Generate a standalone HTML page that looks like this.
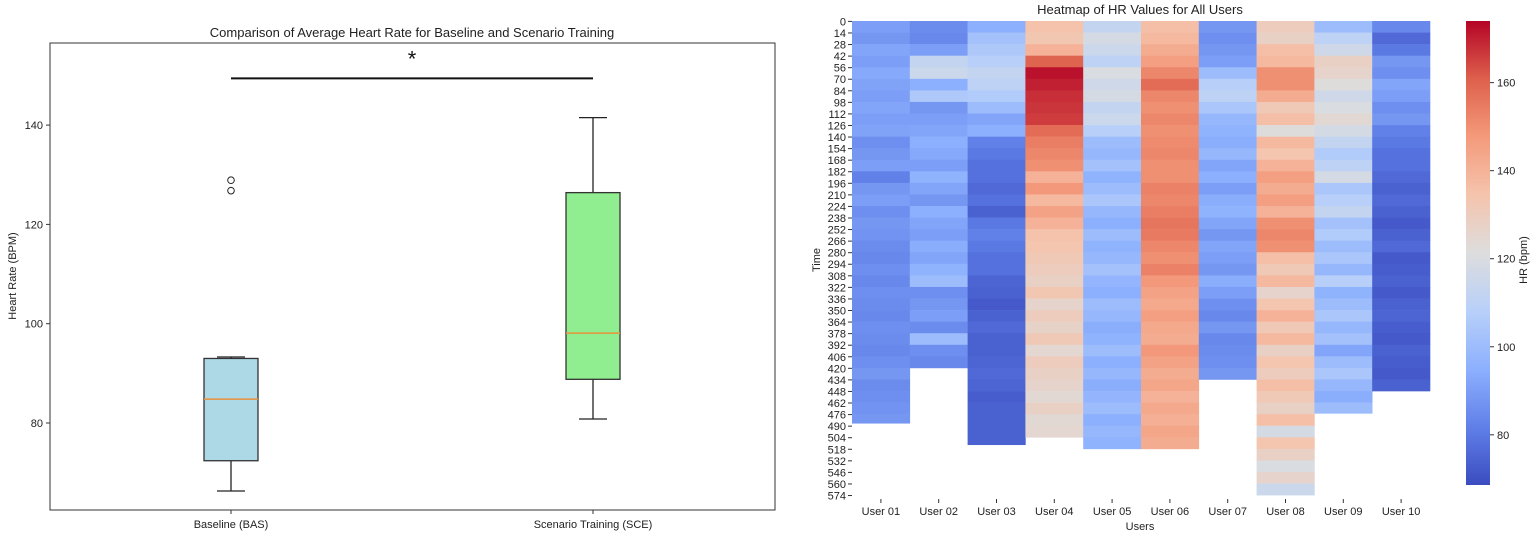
<!DOCTYPE html>
<html><head><meta charset="utf-8"><style>
html,body{margin:0;padding:0;background:#fff;}
svg{display:block;font-family:"Liberation Sans","DejaVu Sans",sans-serif;}
</style></head><body>
<svg id="root" width="1535" height="537" viewBox="0 0 1535 537" xmlns="http://www.w3.org/2000/svg">
<g id="left"></g>
<g id="right"></g>
</svg>
<script>
// ---------- Box plot data ----------
const boxCategories = ["Baseline (BAS)", "Scenario Training (SCE)"];
const boxQ1 = [72.4, 88.8];
const boxMedian = [84.8, 98.1];
const boxQ3 = [93.0, 126.4];
const boxWhiskerLow = [66.3, 80.8];
const boxWhiskerHigh = [93.3, 141.5];
const boxOutliers = [[126.8, 128.9], []];
const boxFills = ["#add8e6", "#90ee90"];
const boxYTicks = [80, 100, 120, 140];
const sigLevel = [149.4];

// ---------- Heatmap data (each value = mean HR over 14 time rows) ----------
const users = ["User 01","User 02","User 03","User 04","User 05","User 06","User 07","User 08","User 09","User 10"];
const rowCounts = [487,422,513,504,521,518,438,578,475,449];
const binRows = 14;
const hr01 = [90,88,92,90,93,91,90,92,90,91,86,88,90,82,88,90,86,88,87,85,84,86,84,86,85,84,86,85,84,86,88,85,86,87,88];
const hr02 = [85,84,90,112,115,95,105,88,90,92,95,93,90,96,92,88,95,92,90,94,92,96,100,86,88,90,85,100,86,84];
const hr03 = [95,102,105,108,112,110,106,100,92,95,82,80,78,78,76,78,74,80,82,80,78,78,75,74,72,74,76,74,74,75,76,75,73,74,74,74,74];
const hr04 = [135,133,140,160,172,170,168,167,166,158,154,152,150,140,148,138,145,140,135,134,132,130,128,133,126,130,127,132,125,130,128,126,124,128,124,125];
const hr05 = [112,118,115,110,120,116,118,112,115,108,100,98,102,96,100,104,98,95,100,96,98,102,97,95,100,98,94,96,100,95,98,94,97,100,95,98,96];
const hr06 = [136,138,142,146,152,158,152,150,152,150,151,152,150,150,153,152,154,156,155,152,150,153,148,145,143,146,143,142,148,145,142,144,140,143,141,144,142];
const hr07 = [88,86,88,90,100,108,110,104,98,96,94,98,92,95,90,94,96,92,88,92,90,88,94,90,86,84,88,84,85,86,88];
const hr08 = [130,128,136,138,150,150,142,132,136,122,138,134,140,146,142,146,140,150,152,150,136,132,138,126,134,140,132,138,128,134,130,136,132,128,136,118,134,128,120,126,115];
const hr09 = [100,110,116,128,126,122,116,120,124,118,112,106,110,118,104,108,112,102,106,100,104,98,108,96,100,104,98,102,92,100,104,98,94,100];
const hr10 = [84,76,80,88,86,92,90,86,88,82,80,78,78,76,74,76,74,72,74,76,72,73,74,72,74,75,73,72,74,73,72,74];
const hrSeries = [hr01,hr02,hr03,hr04,hr05,hr06,hr07,hr08,hr09,hr10];
const cbTicks = [80,100,120,140,160];
const cbRange = [68.6, 174];

const NS="http://www.w3.org/2000/svg";
function mk(tag, attrs, parent, text){
  const e=document.createElementNS(NS,tag);
  for(const k in attrs) e.setAttribute(k,attrs[k]);
  if(text!==undefined) e.textContent=text;
  parent.appendChild(e); return e;
}

// ---------- Left box plot ----------
const L=document.getElementById('left');
const ax={x0:50,x1:775,y0:43,y1:510};
const yv=v=>423-(v-80)*4.965;
const xc=i=>[231,593][i];
const frame=mk('rect',{x:ax.x0,y:ax.y0,width:ax.x1-ax.x0,height:ax.y1-ax.y0,fill:'none',stroke:'#333','stroke-width':1},L);


const t1=mk('text',{x:412,y:37,'text-anchor':'middle','font-size':13,fill:'#222'},L,'Comparison of Average Heart Rate for Baseline and Scenario Training');


const yl=mk('text',{x:0,y:0,'text-anchor':'middle','font-size':11,fill:'#222',transform:'translate(16,276) rotate(-90)'},L,'Heart Rate (BPM)');


boxYTicks.forEach(v=>{
  const y=yv(v);
  const tk=mk('line',{x1:ax.x0-4,x2:ax.x0,y1:y,y2:y,stroke:'#333'},L);
  
  
  const tl=mk('text',{x:ax.x0-7,y:y+4,'text-anchor':'end','font-size':11,fill:'#222'},L,String(v));
  
  
});
boxCategories.forEach((c,i)=>{
  const x=xc(i), hw=27;
  const g=mk('g',{},L);
  
  
  mk('line',{x1:x,x2:x,y1:yv(boxQ1[i]),y2:yv(boxWhiskerLow[i]),stroke:'#222','stroke-width':1.3},g);
  mk('line',{x1:x,x2:x,y1:yv(boxQ3[i]),y2:yv(boxWhiskerHigh[i]),stroke:'#222','stroke-width':1.3},g);
  mk('line',{x1:x-14,x2:x+14,y1:yv(boxWhiskerLow[i]),y2:yv(boxWhiskerLow[i]),stroke:'#222','stroke-width':1.3},g);
  mk('line',{x1:x-14,x2:x+14,y1:yv(boxWhiskerHigh[i]),y2:yv(boxWhiskerHigh[i]),stroke:'#222','stroke-width':1.3},g);
  mk('rect',{x:x-hw,y:yv(boxQ3[i]),width:hw*2,height:yv(boxQ1[i])-yv(boxQ3[i]),fill:boxFills[i],stroke:'#333','stroke-width':1.3},g);
  mk('line',{x1:x-hw,x2:x+hw,y1:yv(boxMedian[i]),y2:yv(boxMedian[i]),stroke:'#e8923a','stroke-width':1.5},g);
  boxOutliers[i].forEach(o=>{
    const c0=mk('circle',{cx:x,cy:yv(o),r:3.3,fill:'none',stroke:'#222','stroke-width':1},g);
    
    
  });
  mk('line',{x1:x,x2:x,y1:ax.y1,y2:ax.y1+4,stroke:'#333'},L);
  const xl=mk('text',{x:x,y:528,'text-anchor':'middle','font-size':11,fill:'#222'},L,c);
  
  
});
const sl=mk('line',{x1:xc(0),x2:xc(1),y1:yv(sigLevel[0]),y2:yv(sigLevel[0]),stroke:'#111','stroke-width':2},L);


const st=mk('text',{x:(xc(0)+xc(1))/2,y:yv(sigLevel[0])-12,'text-anchor':'middle','font-size':22,fill:'#111'},L,'*');



// ---------- Right heatmap ----------
const R=document.getElementById('right');
const hx0=852, colW=57.8, hy0=21, rowH=0.826;
const stops=[[0,[59,76,192]],[0.125,[96,128,232]],[0.25,[141,176,254]],[0.375,[184,208,249]],[0.5,[221,221,221]],[0.625,[245,196,173]],[0.75,[244,154,123]],[0.875,[222,96,77]],[1,[180,4,38]]];
function cmap(v){
  let t=(v-cbRange[0])/(cbRange[1]-cbRange[0]); t=Math.max(0,Math.min(1,t));
  for(let i=1;i<stops.length;i++){
    if(t<=stops[i][0]){
      const a=stops[i-1],b=stops[i],f=(t-a[0])/(b[0]-a[0]);
      const c=a[1].map((q,k)=>Math.round(q+(b[1][k]-q)*f));
      return 'rgb('+c.join(',')+')';
    }
  }
  return 'rgb(180,4,38)';
}
const yr=r=>hy0+r*rowH;
const t2=mk('text',{x:1140,y:14,'text-anchor':'middle','font-size':13,fill:'#222'},R,'Heatmap of HR Values for All Users');


hrSeries.forEach((arr,u)=>{
  const g=mk('g',{},R);
  
  
  arr.forEach((v,b)=>{
    const r0=b*binRows, r1=Math.min(rowCounts[u],r0+binRows);
    if(r1<=r0) return;
    const cell=mk('rect',{x:hx0+u*colW,y:yr(r0),width:colW+0.3,height:(r1-r0)*rowH+0.3,fill:cmap(v)},g);
    
    
  });
  const cx=hx0+(u+0.5)*colW;
  mk('line',{x1:cx,x2:cx,y1:499,y2:503,stroke:'#333'},R);
  const ul=mk('text',{x:cx,y:515,'text-anchor':'middle','font-size':11,fill:'#222'},R,users[u]);
  
  
});
for(let r=0;r<=574;r+=14){
  const y=yr(r)+0.4;
  mk('line',{x1:hx0-4,x2:hx0,y1:y,y2:y,stroke:'#333'},R);
  const tl=mk('text',{x:hx0-6,y:y+4,'text-anchor':'end','font-size':11,fill:'#222'},R,String(r));
  
  
}
const ylab=mk('text',{x:0,y:0,'text-anchor':'middle','font-size':11,fill:'#222',transform:'translate(820,260) rotate(-90)'},R,'Time');


const xlab=mk('text',{x:1140,y:530,'text-anchor':'middle','font-size':11,fill:'#222'},R,'Users');


// colorbar
const defs=mk('defs',{},R);
const grad=mk('linearGradient',{id:'cb',x1:0,y1:1,x2:0,y2:0},defs);
stops.forEach(s=>mk('stop',{offset:s[0],'stop-color':'rgb('+s[1].join(',')+')'},grad));
const cbTop=21, cbBot=485, cbx=1466, cbw=24;
const cb=mk('rect',{x:cbx,y:cbTop,width:cbw,height:cbBot-cbTop,fill:'url(#cb)'},R);


const cbY=v=>cbBot-(v-cbRange[0])/(cbRange[1]-cbRange[0])*(cbBot-cbTop);
cbTicks.forEach(v=>{
  const y=cbY(v);
  mk('line',{x1:cbx+cbw,x2:cbx+cbw+4,y1:y,y2:y,stroke:'#333'},R);
  const tl=mk('text',{x:cbx+cbw+7,y:y+4,'font-size':11,fill:'#222'},R,String(v));
  
  
});
const cbl=mk('text',{x:0,y:0,'text-anchor':'middle','font-size':11,fill:'#222',transform:'translate(1527,260) rotate(-90)'},R,'HR (bpm)');


</script>
</body></html>
